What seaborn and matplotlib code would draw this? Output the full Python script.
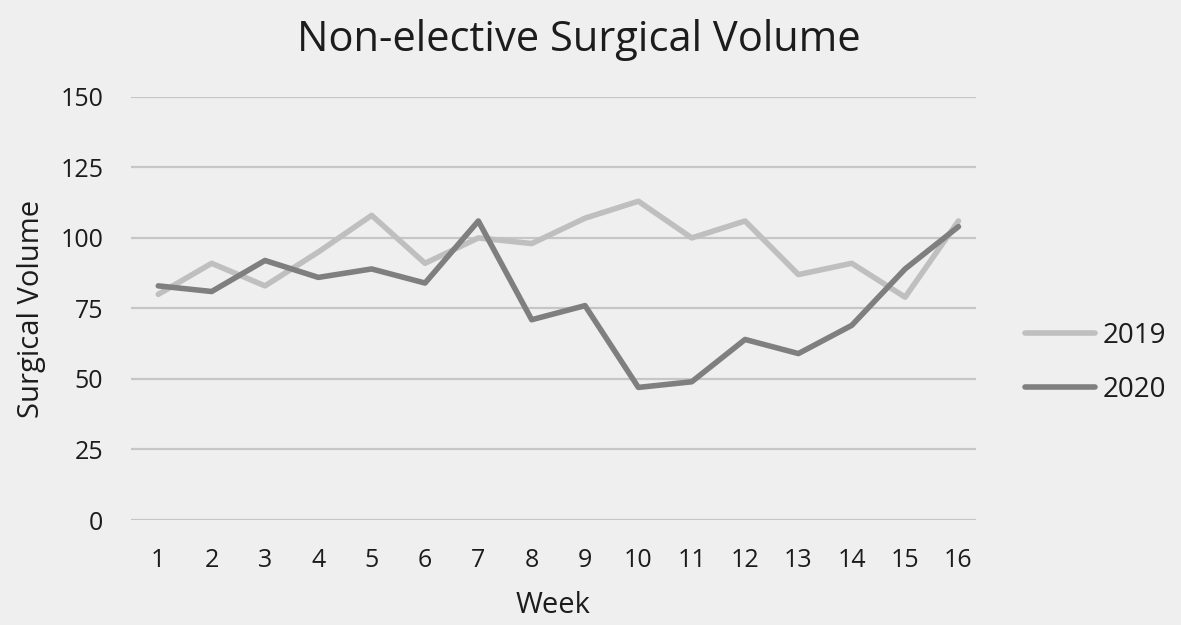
import numpy as np
import pandas as pd
import matplotlib
matplotlib.use("Agg")
import matplotlib.pyplot as plt
import seaborn as sns

# data
weeks = list(range(1, 17))
vol_2019 = [80, 91, 83, 95, 108, 91, 100, 98, 107, 113, 100, 106, 87, 91, 79, 106]
vol_2020 = [83, 81, 92, 86, 89, 84, 106, 71, 76, 47, 49, 64, 59, 69, 89, 104]
years = ["2019", "2020"]
colors = {"2019": "#bfbfbf", "2020": "#7f7f7f"}
y_ticks = [0, 25, 50, 75, 100, 125, 150]

df = pd.DataFrame({
    "Week": weeks * 2,
    "Surgical Volume": vol_2019 + vol_2020,
    "Year": ["2019"] * len(weeks) + ["2020"] * len(weeks),
})

sns.set_theme(style="white")
plt.rcParams["font.family"] = ["Open Sans", "DejaVu Sans"]
BG = "#efefef"
TXT = "#1c1c1c"

fig = plt.figure(figsize=(11.81, 6.25), dpi=100, facecolor=BG)
ax = fig.add_axes([0.111, 0.168, 0.715, 0.677], facecolor=BG)

sns.lineplot(data=df, x="Week", y="Surgical Volume", hue="Year",
             hue_order=years, palette=colors, linewidth=4, ax=ax)

ax.set_xlim(0.49, 16.32)
ax.set_ylim(0, 150)
ax.set_yticks(y_ticks)
ax.set_xticks(weeks)
ax.yaxis.grid(True, color="#c6c6c6", linewidth=1.6)
ax.set_axisbelow(True)
for s in ax.spines.values():
    s.set_visible(False)
ax.tick_params(axis="both", length=0, labelsize=18, colors=TXT)
ax.tick_params(axis="x", pad=20)
ax.tick_params(axis="y", pad=20)

ax.set_xlabel("Week", fontsize=21, color=TXT, labelpad=13)
ax.set_ylabel("Surgical Volume", fontsize=21, color=TXT, labelpad=10)
fig.suptitle("Non-elective Surgical Volume", fontsize=30, color=TXT,
             x=0.49, y=0.97)

leg = ax.legend(loc="center left", bbox_to_anchor=(0.847, 0.419),
                bbox_transform=fig.transFigure, frameon=False,
                fontsize=20, handlelength=2.5, handletextpad=0.3,
                labelspacing=0.93, title=None)
for t in leg.get_texts():
    t.set_color(TXT)
for h in leg.get_lines():
    h.set_linewidth(4)

fig.savefig("out.png", dpi=100, facecolor=BG)
